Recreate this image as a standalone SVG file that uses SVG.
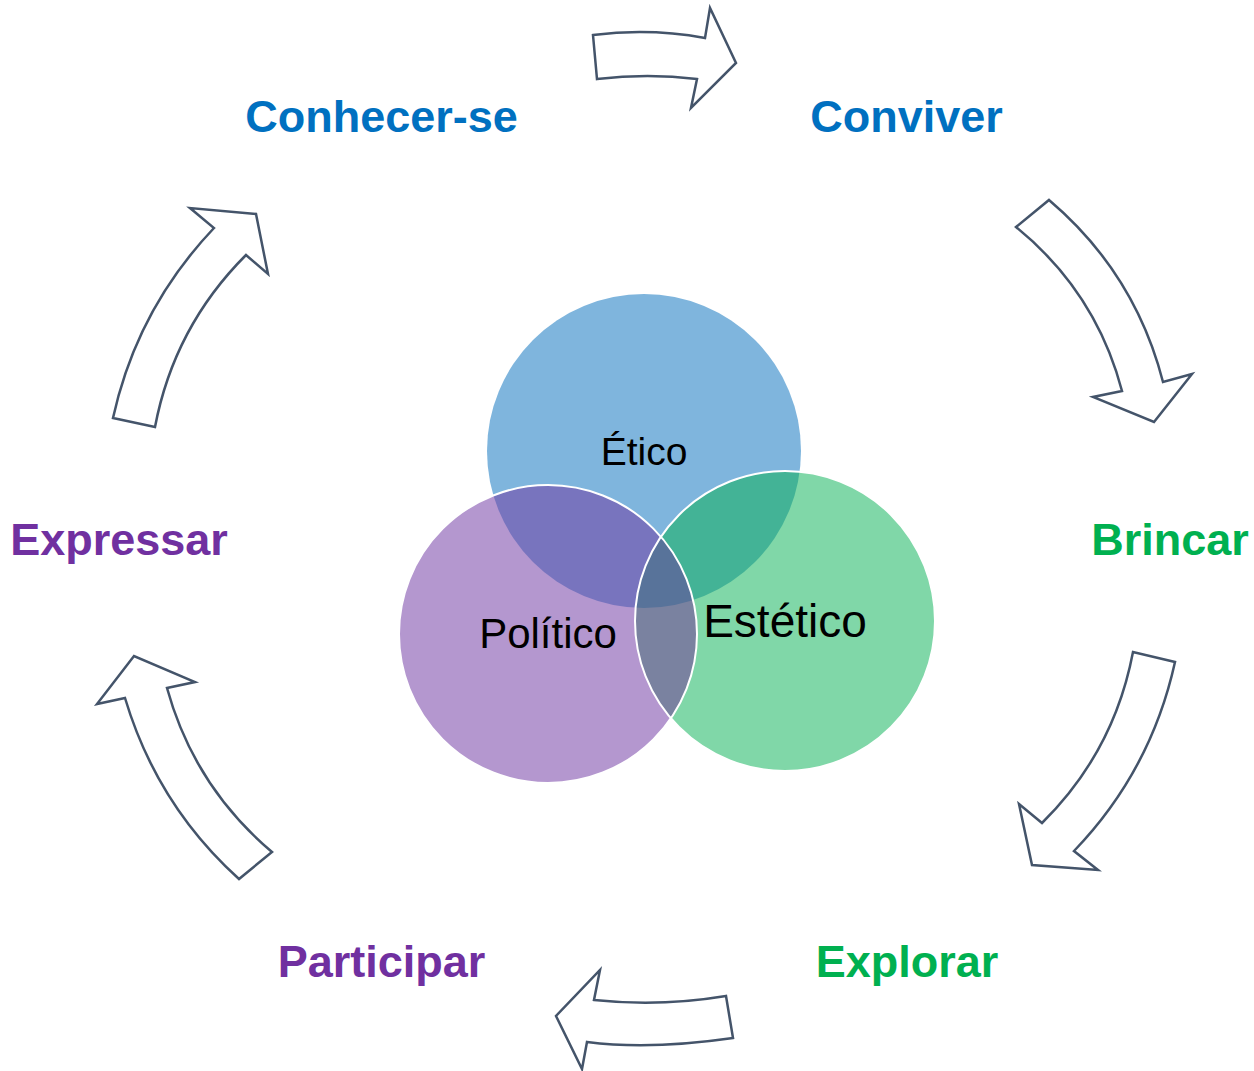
<svg xmlns="http://www.w3.org/2000/svg" width="1254" height="1071" viewBox="0 0 1254 1071">
<style>
.arrow{fill:#ffffff;stroke:#44546A;stroke-width:2.5;stroke-linejoin:miter}
.lbl{font-family:"Liberation Sans",Arial,sans-serif;font-weight:bold;font-size:45px;text-anchor:middle}
.blue{fill:#0070C0}.green{fill:#00B050}.purple{fill:#7030A0}
.in{font-family:"Liberation Sans",Arial,sans-serif;fill:#000000;text-anchor:middle}
.edge{fill:none;stroke:#ffffff;stroke-width:2}
</style>
<defs>
<clipPath id="clipE"><circle cx="644" cy="451" r="157"/></clipPath>
<clipPath id="clipP"><circle cx="548" cy="634" r="149"/></clipPath>
</defs>
<rect width="1254" height="1071" fill="#ffffff"/>

<g id="venn">
  <g id="node-etico">
    <circle cx="644" cy="451" r="157" fill="#7FB5DD"/>
  </g>
  <g id="node-politico">
    <circle cx="548" cy="634" r="149" fill="#B497CF"/>
  </g>
  <g id="node-estetico">
    <circle cx="785" cy="621" r="150" fill="#80D7A8"/>
  </g>
  <g id="overlaps">
    <circle cx="548" cy="634" r="149" fill="#7874BE" clip-path="url(#clipE)"/>
    <circle cx="785" cy="621" r="150" fill="#43B396" clip-path="url(#clipE)"/>
    <circle cx="785" cy="621" r="150" fill="#7A82A0" clip-path="url(#clipP)"/>
    <g clip-path="url(#clipE)"><circle cx="785" cy="621" r="150" fill="#58739A" clip-path="url(#clipP)"/></g>
  </g>
  <circle class="edge" cx="548" cy="634" r="149"/>
  <circle class="edge" cx="785" cy="621" r="150"/>
  <text class="in" x="644" y="465" font-size="39">Ético</text>
  <text class="in" x="548" y="648" font-size="42">Político</text>
  <text class="in" x="785" y="637" font-size="46">Estético</text>
</g>

<g id="connectors">
  <path class="arrow" d="M593,35 Q650,28 705,38 L710,8 L736,63 L691,108 L697,79 Q648,73 597,79 Z"/>
  <path class="arrow" d="M1049,200 Q1135,273 1163,382 L1192,374 L1154,422 L1093,397 L1122,391 Q1096,292 1016,227 Z"/>
  <path class="arrow" d="M1175,662 Q1151,771 1074,851 L1098,870 L1032,865 L1019,804 L1042,823 Q1114,752 1133,652 Z"/>
  <path class="arrow" d="M726,996 Q660,1007 594,1000 L600,970 L556,1016 L582,1069 L587,1042 Q650,1050 733,1038 Z"/>
  <path class="arrow" d="M272,852 Q194,786 167,688 L195,682 L134,656 L97,704 L125,698 Q157,805 239,879 Z"/>
  <path class="arrow" d="M113,418 Q137,309 214,228 L190,208 L256,214 L268,274 L246,255 Q174,327 155,427 Z"/>
</g>

<g id="node-conhecer"><text class="lbl blue" x="381.5" y="132">Conhecer-se</text></g>
<g id="node-conviver"><text class="lbl blue" x="906.5" y="132">Conviver</text></g>
<g id="node-brincar"><text class="lbl green" x="1170" y="555">Brincar</text></g>
<g id="node-explorar"><text class="lbl green" x="907" y="977">Explorar</text></g>
<g id="node-participar"><text class="lbl purple" x="381.5" y="977">Participar</text></g>
<g id="node-expressar"><text class="lbl purple" x="119" y="555">Expressar</text></g>
</svg>
